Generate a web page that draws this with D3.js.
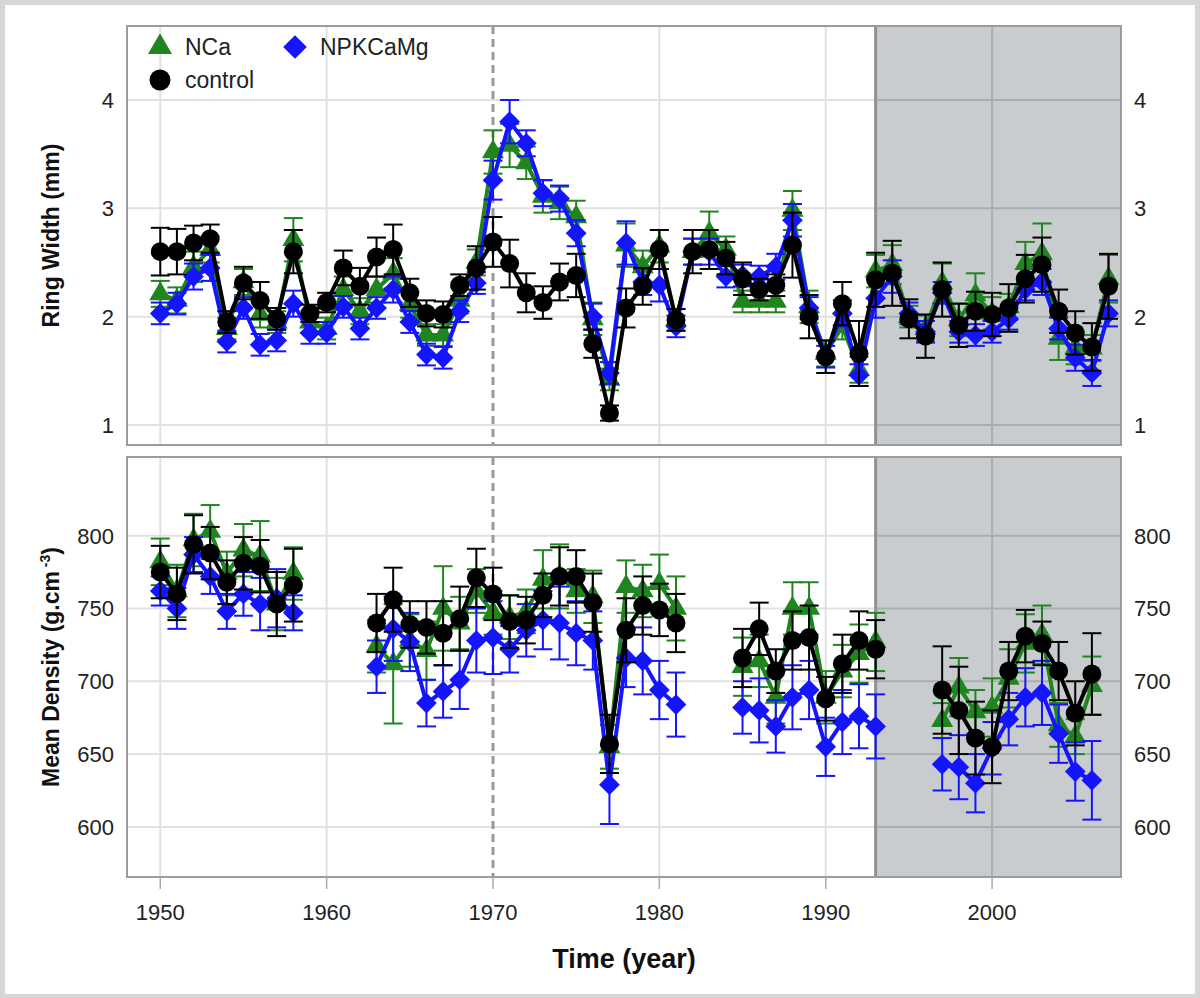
<!DOCTYPE html>
<html>
<head>
<meta charset="utf-8">
<script src="https://cdn.jsdelivr.net/npm/d3@7"></script>
<style>
  body { margin: 0; background: #d6d6d6; }
  svg { display: block; font-family: "Liberation Sans", Arial, sans-serif; }
</style>
</head>
<body>
<script>
// years for each panel
var yearsTop = d3.range(1950, 2008);   // ring width, 1950-2007
var yearsBot = d3.range(1950, 2007);   // density, 1950-2006

// ring width (mm)
var rwControl = [2.60,2.60,2.68,2.72,1.95,2.31,2.15,1.98,2.60,2.03,2.13,2.45,2.28,2.55,2.62,2.22,2.03,2.02,2.29,2.45,2.69,
  2.49,2.22,2.13,2.32,2.38,1.75,1.11,2.08,2.28,2.62,1.97,2.60,2.62,2.54,2.35,2.25,2.29,2.66,2.00,1.63,2.12,1.66,2.34,
  2.40,1.98,1.82,2.25,1.92,2.05,2.02,2.08,2.35,2.48,2.05,1.85,1.72,2.28];
var rwNCa = [2.21,2.15,2.46,2.62,1.89,2.32,2.02,1.95,2.71,1.95,1.89,2.25,2.05,2.25,2.40,2.11,1.83,1.83,2.15,2.50,3.52,
  3.58,3.42,3.11,3.05,2.92,1.98,1.42,2.66,2.46,2.65,1.97,2.60,2.77,2.62,2.14,2.14,2.14,2.98,2.09,1.66,1.91,1.51,2.42,
  2.48,2.00,1.89,2.31,1.97,2.20,2.03,2.09,2.49,2.58,1.80,1.71,1.71,2.35];
var rwNPK = [2.03,2.12,2.37,2.45,1.77,2.08,1.74,1.78,2.12,1.85,1.85,2.09,1.89,2.08,2.25,1.95,1.65,1.62,2.05,2.31,3.26,
  3.80,3.60,3.14,3.09,2.77,2.00,1.48,2.68,2.32,2.29,1.91,2.60,2.60,2.37,2.38,2.37,2.46,2.89,2.08,1.63,2.03,1.46,2.17,
  2.37,2.03,1.86,2.22,1.86,1.83,1.86,1.98,2.25,2.32,1.89,1.62,1.48,2.03];
var rwControlErr = [.22,.21,.16,.13,.10,.15,.17,.10,.20,.08,.09,.16,.17,.18,.23,.13,.12,.12,.10,.20,.23,
  .22,.18,.15,.17,.20,.13,.07,.18,.17,.18,.10,.20,.18,.15,.15,.10,.10,.30,.20,.15,.20,.30,.25,
  .30,.18,.20,.25,.20,.18,.20,.22,.22,.25,.20,.20,.22,.30];
var rwNCaErr = [.12,.12,.14,.12,.10,.12,.12,.10,.20,.10,.10,.12,.12,.12,.14,.12,.10,.10,.12,.12,.20,
  .20,.15,.15,.15,.15,.15,.10,.20,.15,.15,.10,.12,.20,.12,.10,.10,.10,.18,.15,.12,.12,.12,.15,
  .18,.10,.12,.18,.15,.20,.15,.12,.20,.28,.20,.15,.12,.22];
var rwNPKErr = [.10,.10,.12,.12,.10,.10,.10,.10,.12,.10,.10,.10,.10,.10,.12,.10,.10,.10,.10,.10,.18,
  .20,.12,.12,.12,.12,.12,.10,.20,.12,.15,.10,.12,.12,.10,.10,.10,.12,.15,.10,.10,.12,.10,.18,
  .15,.10,.10,.10,.10,.10,.10,.10,.10,.12,.10,.12,.12,.12];

// mean density (g.cm-3), null = no measurement
var mdControl = [775,760,794,788,768,781,779,753,766, null,null,null,null,
  740,756,739,737,733,743,771,760,741,742,759,772,772,754,657,735,752,749,740, null,null,null,
  716,736,707,728,730,688,712,728,722, null,null,null,
  694,680,661,655,707,731,726,707,678,705];
var mdNCa = [782,762,797,803,774,790,786,753,774, null,null,null,null,
  724,712,728,721,750,740,762,747,744,748,770,772,762,758,655,765,762,767,750, null,null,null,
  710,714,689,750,750,689,707,719,727, null,null,null,
  673,696,679,682,702,726,732,670,662,697];
var mdNPK = [762,750,787,772,748,760,753,757,747, null,null,null,null,
  710,736,727,685,693,701,728,730,722,735,742,740,733,728,629,716,714,694,684, null,null,null,
  682,680,669,689,694,655,672,676,669, null,null,null,
  643,641,630,654,674,689,692,664,638,632];
var mdControlErr = [18,18,20,18,15,18,18,22,25, 0,0,0,0,
  20,22,16,18,22,22,20,18,18,16,15,20,18,20,20,22,20,18,20, 0,0,0,
  20,18,15,20,22,15,20,20,20, 0,0,0,
  30,30,25,25,20,18,15,20,22,28];
var mdNCaErr = [16,18,18,18,15,18,24,18,18, 0,0,0,0,
  18,41,18,20,29,18,15,15,15,15,20,22,15,18,15,18,18,20,22, 0,0,0,
  20,18,18,18,18,18,18,20,20, 0,0,0,
  12,20,15,20,20,20,20,15,12,20];
var mdNPKErr = [10,14,12,12,12,15,18,20,12, 0,0,0,0,
  18,22,20,16,18,20,22,25,16,18,20,25,22,20,27,20,23,20,22, 0,0,0,
  18,22,18,22,20,20,22,22,22, 0,0,0,
  18,22,20,18,18,20,22,20,20,27];

var xTicks = [1950, 1960, 1970, 1980, 1990, 2000];
var rwTicks = [1, 2, 3, 4];
var mdTicks = [600, 650, 700, 750, 800];
var treatYear = 1970, shadeYear = 1993;

var colors = {NCa: "#1f861f", NPKCaMg: "#1414ff", control: "#000000"};

var W = 1200, H = 998;
var svg = d3.select("body").append("svg").attr("width", W).attr("height", H);
svg.append("rect").attr("x", 5).attr("y", 5).attr("width", 1190).attr("height", 989).attr("fill", "#fff");

var left = 127, right = 1121;
var x = d3.scaleLinear().domain([1948, 2007.75]).range([left, right]);

var panels = [
  {top: 26, bottom: 445, domain: [0.815, 4.683], ticks: rwTicks, title: "Ring Width (mm)",
   series: [
     {name: "NCa", years: yearsTop, v: rwNCa, e: rwNCaErr},
     {name: "NPKCaMg", years: yearsTop, v: rwNPK, e: rwNPKErr},
     {name: "control", years: yearsTop, v: rwControl, e: rwControlErr}]},
  {top: 457, bottom: 877, domain: [565.6, 854], ticks: mdTicks, title: "Mean Density (g.cm",
   series: [
     {name: "NCa", years: yearsBot, v: mdNCa, e: mdNCaErr},
     {name: "NPKCaMg", years: yearsBot, v: mdNPK, e: mdNPKErr},
     {name: "control", years: yearsBot, v: mdControl, e: mdControlErr}]}
];

function marker(sel, name) {
  if (name == "control") {
    sel.append("circle").attr("r", 9.5).attr("fill", colors.control);
  } else if (name == "NCa") {
    sel.append("path").attr("d", d3.symbol(d3.symbolTriangle, 210)()).attr("fill", colors.NCa);
  } else {
    sel.append("path").attr("d", d3.symbol(d3.symbolSquare, 215)())
      .attr("transform", "rotate(45)").attr("fill", colors.NPKCaMg);
  }
}

panels.forEach(function(p, i) {
  var y = d3.scaleLinear().domain(p.domain).range([p.bottom, p.top]);
  var g = svg.append("g");
  var clipId = "clip" + i;
  svg.append("clipPath").attr("id", clipId).append("rect")
    .attr("x", left).attr("y", p.top).attr("width", right - left).attr("height", p.bottom - p.top);

  var xs = x(shadeYear);
  // light grid
  g.selectAll(".hg").data(p.ticks).enter().append("line")
    .attr("x1", left).attr("x2", xs).attr("y1", y).attr("y2", y)
    .attr("stroke", "#e1e1e1").attr("stroke-width", 2);
  g.selectAll(".vg").data(xTicks.filter(function(t) { return t < shadeYear && t != treatYear; }))
    .enter().append("line")
    .attr("x1", x).attr("x2", x).attr("y1", p.top).attr("y2", p.bottom)
    .attr("stroke", "#e1e1e1").attr("stroke-width", 2);
  // shaded period
  g.append("rect").attr("x", xs).attr("y", p.top).attr("width", right - xs).attr("height", p.bottom - p.top)
    .attr("fill", "#c9ccce");
  g.selectAll(".hg2").data(p.ticks).enter().append("line")
    .attr("x1", xs).attr("x2", right).attr("y1", y).attr("y2", y)
    .attr("stroke", "#abaeb1").attr("stroke-width", 2);
  g.selectAll(".vg2").data(xTicks.filter(function(t) { return t > shadeYear; })).enter().append("line")
    .attr("x1", x).attr("x2", x).attr("y1", p.top).attr("y2", p.bottom)
    .attr("stroke", "#abaeb1").attr("stroke-width", 2);
  g.append("line").attr("x1", xs).attr("x2", xs).attr("y1", p.top).attr("y2", p.bottom)
    .attr("stroke", "#8f9295").attr("stroke-width", 3);
  g.append("line").attr("x1", x(treatYear)).attr("x2", x(treatYear)).attr("y1", p.top).attr("y2", p.bottom)
    .attr("stroke", "#9a9a9a").attr("stroke-width", 3).attr("stroke-dasharray", "8,5");

  // data
  var dg = g.append("g").attr("clip-path", "url(#" + clipId + ")");
  p.series.forEach(function(s) {
    var pts = s.years.map(function(yr, k) { return {yr: yr, v: s.v[k], e: s.e[k]}; });
    var ok = pts.filter(function(d) { return d.v != null; });
    var c = colors[s.name];
    var eb = dg.append("g").attr("stroke", c).attr("stroke-width", 2);
    eb.selectAll("line.v").data(ok).enter().append("line")
      .attr("x1", function(d) { return x(d.yr); }).attr("x2", function(d) { return x(d.yr); })
      .attr("y1", function(d) { return y(d.v - d.e); }).attr("y2", function(d) { return y(d.v + d.e); });
    eb.selectAll("line.t").data(ok).enter().append("line")
      .attr("x1", function(d) { return x(d.yr) - 9.5; }).attr("x2", function(d) { return x(d.yr) + 9.5; })
      .attr("y1", function(d) { return y(d.v + d.e); }).attr("y2", function(d) { return y(d.v + d.e); });
    eb.selectAll("line.b").data(ok).enter().append("line")
      .attr("x1", function(d) { return x(d.yr) - 9.5; }).attr("x2", function(d) { return x(d.yr) + 9.5; })
      .attr("y1", function(d) { return y(d.v - d.e); }).attr("y2", function(d) { return y(d.v - d.e); });
    var line = d3.line().defined(function(d) { return d.v != null; })
      .x(function(d) { return x(d.yr); }).y(function(d) { return y(d.v); });
    dg.append("path").datum(pts).attr("d", line).attr("fill", "none")
      .attr("stroke", c).attr("stroke-width", 4).attr("stroke-linejoin", "round");
    dg.selectAll(null).data(ok).enter().append("g")
      .attr("transform", function(d) { return "translate(" + x(d.yr) + "," + y(d.v) + ")"; })
      .each(function() { marker(d3.select(this), s.name); });
  });

  // frame
  g.append("rect").attr("x", left).attr("y", p.top).attr("width", right - left).attr("height", p.bottom - p.top)
    .attr("fill", "none").attr("stroke", "#9c9c9c").attr("stroke-width", 2);

  // y tick labels both sides
  g.selectAll(".yl").data(p.ticks).enter().append("text")
    .attr("x", 114).attr("y", y).attr("dy", "0.36em").attr("text-anchor", "end")
    .attr("font-size", 22).attr("fill", "#222").text(function(d) { return d; });
  g.selectAll(".yr").data(p.ticks).enter().append("text")
    .attr("x", 1134).attr("y", y).attr("dy", "0.36em").attr("text-anchor", "start")
    .attr("font-size", 22).attr("fill", "#222").text(function(d) { return d; });

  var t = g.append("text").attr("transform", "translate(59," + ((p.top + p.bottom) / 2) + ") rotate(-90)")
    .attr("text-anchor", "middle").attr("font-size", 23).attr("font-weight", "bold").attr("fill", "#111")
    .text(p.title);
  if (i == 1) {
    t.append("tspan").attr("font-size", 14).attr("dy", -9).text(" -3");
    t.append("tspan").attr("dy", 9).text(")");
  }

  if (i == 1) {
    // x axis ticks + labels
    g.selectAll(".xt").data(xTicks).enter().append("line")
      .attr("x1", x).attr("x2", x).attr("y1", p.bottom).attr("y2", p.bottom + 12)
      .attr("stroke", "#aaa").attr("stroke-width", 1.5);
    g.selectAll(".xl").data(xTicks).enter().append("text")
      .attr("x", x).attr("y", 920).attr("text-anchor", "middle")
      .attr("font-size", 22).attr("fill", "#222").text(function(d) { return d; });
  }
});

svg.append("text").attr("x", 624).attr("y", 968).attr("text-anchor", "middle")
  .attr("font-size", 27).attr("font-weight", "bold").attr("fill", "#111").text("Time (year)");

// legend
var legend = [
  {name: "NCa", x: 160, y: 47},
  {name: "NPKCaMg", x: 295, y: 47},
  {name: "control", x: 160, y: 80}
];
legend.forEach(function(l) {
  var lg = svg.append("g").attr("transform", "translate(" + l.x + "," + l.y + ")");
  if (l.name == "control") lg.append("circle").attr("r", 10.5).attr("fill", colors.control);
  else if (l.name == "NCa") lg.append("path").attr("d", d3.symbol(d3.symbolTriangle, 250)()).attr("fill", colors.NCa);
  else lg.append("path").attr("d", d3.symbol(d3.symbolSquare, 280)()).attr("transform", "rotate(45)").attr("fill", colors.NPKCaMg);
  lg.append("text").attr("x", 25).attr("dy", "0.36em").attr("font-size", 23).attr("fill", "#222").text(l.name);
});
</script>
</body>
</html>
